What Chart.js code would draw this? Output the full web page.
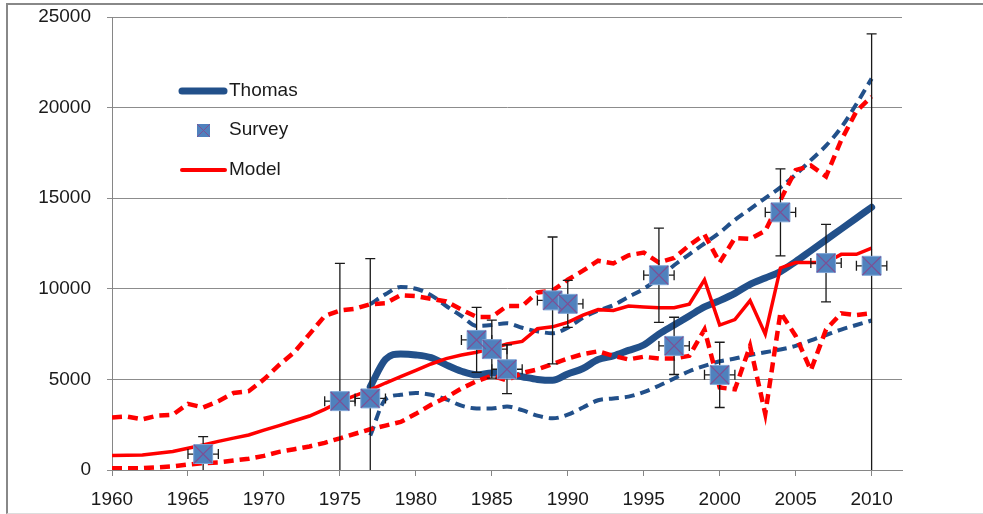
<!DOCTYPE html>
<html>
<head>
<meta charset="utf-8">
<script src="https://cdn.jsdelivr.net/npm/chart.js@4.4.1/dist/chart.umd.min.js"></script>
<style>
    html, body { margin: 0; padding: 0; background: #fff; }
    .frame {
        position: absolute; left: 6px; top: 3px; width: 1000px; height: 508px;
        border-left: 2px solid #888; border-top: 2px solid #888; border-bottom: 1px solid #ddd;
    }
    #chart { position: absolute; left: 0; top: 0; }
</style>
</head>
<body>
<div class="frame"></div>
<canvas id="chart" width="983" height="514"></canvas>
<script>
// model runs every year 1960-2010
const modelYears = [1960, 1961, 1962, 1963, 1964, 1965, 1966, 1967, 1968, 1969,
    1970, 1971, 1972, 1973, 1974, 1975, 1976, 1977, 1978, 1979,
    1980, 1981, 1982, 1983, 1984, 1985, 1986, 1987, 1988, 1989,
    1990, 1991, 1992, 1993, 1994, 1995, 1996, 1997, 1998, 1999,
    2000, 2001, 2002, 2003, 2004, 2005, 2006, 2007, 2008, 2009, 2010];
const modelMid = [800, 820, 830, 920, 1020, 1200, 1380, 1580, 1760, 1930,
    2200, 2450, 2720, 2980, 3350, 3770, 4100, 4420, 4800, 5150,
    5500, 5850, 6150, 6350, 6500, 6700, 6950, 7100, 7800, 7900,
    8150, 8550, 8850, 8800, 9050, 9000, 8950, 8950, 9150, 10500,
    8000, 8300, 9350, 7500, 11150, 11450, 11450, 11450, 11900, 11900, 12250];
const modelHigh = [2900, 2950, 2800, 3000, 3050, 3650, 3450, 3800, 4250, 4350,
    5000, 5800, 6500, 7500, 8500, 8800, 8900, 9150, 9200, 9650,
    9600, 9450, 9300, 8850, 8450, 8450, 9050, 9050, 9800, 9900,
    10500, 11000, 11550, 11400, 11850, 12000, 11450, 11700, 12400, 13000,
    11450, 12800, 12750, 13200, 14900, 16550, 16800, 16200, 18200, 19800, 20600];
const modelLow = [100, 100, 100, 150, 200, 300, 380, 420, 520, 620,
    780, 1000, 1150, 1300, 1500, 1750, 2000, 2250, 2450, 2650,
    3100, 3600, 4000, 4500, 4900, 5200, 4950, 5350, 5550, 5850,
    6150, 6400, 6550, 6300, 6100, 6250, 6150, 6150, 6300, 7750,
    4550, 4450, 6850, 3100, 8700, 7400, 5500, 7750, 8650, 8550, 8650];

// Thomas estimate 1977-2010
const thomasYears = [1977, 1978, 1979, 1980, 1981, 1982, 1983, 1984, 1985, 1986,
    1987, 1988, 1989, 1990, 1991, 1992, 1993, 1994, 1995, 1996,
    1997, 1998, 1999, 2000, 2001, 2002, 2003, 2004, 2005, 2006,
    2007, 2008, 2009, 2010];
const thomasMid = [4600, 6100, 6400, 6350, 6200, 5800, 5450, 5250, 5350, 5300,
    5150, 5000, 4950, 5300, 5600, 6100, 6300, 6600, 6900, 7500,
    8000, 8500, 9000, 9350, 9750, 10250, 10600, 10950, 11500, 12100,
    12700, 13300, 13900, 14500];
const thomasHigh = [9150, 9700, 10100, 10000, 9650, 9050, 8500, 7950, 8000, 8100,
    7850, 7650, 7550, 7850, 8400, 8800, 9100, 9550, 10000, 10600,
    11300, 11900, 12500, 13100, 13800, 14400, 15000, 15600, 16300, 17100,
    17900, 18900, 20200, 21600];
const thomasLow = [1900, 3900, 4150, 4250, 4150, 3900, 3550, 3400, 3400, 3500,
    3300, 3000, 2850, 3050, 3450, 3850, 3950, 4050, 4300, 4650,
    5050, 5450, 5750, 6000, 6150, 6350, 6500, 6650, 6850, 7150,
    7450, 7750, 8000, 8250];

// survey points with +/- errors
const surveyYears = [1966, 1975, 1977, 1984, 1985, 1986, 1989, 1990, 1996, 1997, 2000, 2004, 2007, 2010];
const surveyValues = [880, 3800, 3950, 7180, 6670, 5560, 9360, 9170, 10750, 6850, 5250, 14220, 11420, 11270];
const surveyErrY = [960, 7600, 7720, 1790, 1600, 1350, 3500, 1300, 2600, 1580, 1800, 2400, 2140, 12800];
const surveyErrX = [1, 1, 1, 1, 1, 1, 1, 1, 1, 1, 1, 1, 1, 1];

const yTicks = [0, 5000, 10000, 15000, 20000, 25000];

const BLUE = '#22508a';
const RED = '#ff0000';
const SQ_FILL = '#4f81bd';
const SQ_CROSS = '#7e4f94';
const FONT = "'Liberation Sans', Arial, sans-serif";

const toXY = (xs, ys) => xs.map((x, i) => ({ x: x, y: ys[i] }));

const errorBars = {
    id: 'errorBars',
    beforeDatasetDraw(chart, args) {
        if (args.index !== 6) return;
        const { ctx, chartArea, scales } = chart;
        const xs = scales.x, ys = scales.y;
        ctx.save();
        ctx.beginPath();
        ctx.rect(chartArea.left, chartArea.top, chartArea.right - chartArea.left, chartArea.bottom - chartArea.top);
        ctx.clip();
        ctx.strokeStyle = '#1a1a1a';
        ctx.lineWidth = 1.3;
        surveyYears.forEach((yr, i) => {
            const cx = xs.getPixelForValue(yr);
            const cy = ys.getPixelForValue(surveyValues[i]);
            const top = ys.getPixelForValue(surveyValues[i] + surveyErrY[i]);
            const bot = ys.getPixelForValue(surveyValues[i] - surveyErrY[i]);
            const l = xs.getPixelForValue(yr - surveyErrX[i]);
            const r = xs.getPixelForValue(yr + surveyErrX[i]);
            ctx.beginPath();
            ctx.moveTo(cx, top); ctx.lineTo(cx, bot);
            ctx.moveTo(cx - 5, top); ctx.lineTo(cx + 5, top);
            ctx.moveTo(cx - 5, bot); ctx.lineTo(cx + 5, bot);
            ctx.moveTo(l, cy); ctx.lineTo(r, cy);
            ctx.moveTo(l, cy - 5); ctx.lineTo(l, cy + 5);
            ctx.moveTo(r, cy - 5); ctx.lineTo(r, cy + 5);
            ctx.stroke();
        });
        ctx.restore();
    }
};

const insideLegend = {
    id: 'insideLegend',
    afterDraw(chart) {
        const ctx = chart.ctx;
        ctx.save();
        ctx.lineCap = 'round';
        ctx.strokeStyle = BLUE;
        ctx.lineWidth = 7;
        ctx.beginPath(); ctx.moveTo(182, 91); ctx.lineTo(224, 91); ctx.stroke();
        ctx.strokeStyle = RED;
        ctx.lineWidth = 4;
        ctx.beginPath(); ctx.moveTo(182, 170); ctx.lineTo(225, 170); ctx.stroke();
        ctx.fillStyle = SQ_FILL;
        ctx.fillRect(197, 124, 13, 13);
        ctx.strokeStyle = SQ_CROSS;
        ctx.lineWidth = 1;
        ctx.lineCap = 'butt';
        ctx.beginPath();
        ctx.moveTo(197, 124); ctx.lineTo(210, 137);
        ctx.moveTo(210, 124); ctx.lineTo(197, 137);
        ctx.stroke();
        ctx.fillStyle = '#1a1a1a';
        ctx.font = '19px ' + FONT;
        ctx.textBaseline = 'middle';
        ctx.fillText('Thomas', 229, 91);
        ctx.fillText('Survey', 229, 130);
        ctx.fillText('Model', 229, 170);
        ctx.restore();
    }
};

const dashed = [10, 6];

new Chart(document.getElementById('chart'), {
    type: 'line',
    data: {
        datasets: [
            { label: 'Thomas', data: toXY(thomasYears, thomasMid), borderColor: BLUE, borderWidth: 7,
              cubicInterpolationMode: 'monotone', borderCapStyle: 'round', order: 6 },
            { label: 'Thomas high', data: toXY(thomasYears, thomasHigh), borderColor: BLUE, borderWidth: 4,
              borderDash: dashed, cubicInterpolationMode: 'monotone', order: 5 },
            { label: 'Thomas low', data: toXY(thomasYears, thomasLow), borderColor: BLUE, borderWidth: 4,
              borderDash: dashed, cubicInterpolationMode: 'monotone', order: 5 },
            { label: 'Model', data: toXY(modelYears, modelMid), borderColor: RED, borderWidth: 3.5, order: 3 },
            { label: 'Model high', data: toXY(modelYears, modelHigh), borderColor: RED, borderWidth: 4.5,
              borderDash: dashed, order: 4 },
            { label: 'Model low', data: toXY(modelYears, modelLow), borderColor: RED, borderWidth: 4.5,
              borderDash: dashed, order: 4 },
            { label: 'Survey', data: toXY(surveyYears, surveyValues), showLine: false,
              pointStyle: 'rect', pointRadius: 13.4, pointBackgroundColor: SQ_FILL,
              pointBorderColor: '#7fa6d6', pointBorderWidth: 1, order: 1 },
            { label: 'Survey cross', data: toXY(surveyYears, surveyValues), showLine: false,
              pointStyle: 'crossRot', pointRadius: 13, pointBorderColor: SQ_CROSS,
              pointBorderWidth: 1.2, order: 0 }
        ]
    },
    options: {
        responsive: false,
        animation: false,
        devicePixelRatio: 1,
        layout: { padding: { top: 17, right: 81, bottom: 0, left: 0 } },
        elements: { point: { radius: 0, hoverRadius: 0 }, line: { tension: 0 } },
        plugins: { legend: { display: false }, tooltip: { enabled: false } },
        scales: {
            x: {
                type: 'linear',
                min: 1960, max: 2012,
                ticks: {
                    stepSize: 5, includeBounds: false, padding: 12,
                    color: '#1a1a1a', font: { size: 19, family: FONT },
                    callback: v => String(v)
                },
                grid: { drawOnChartArea: false, tickLength: 6, color: '#868686' },
                border: { color: '#868686' },
                afterFit: s => { s.height = 44; s.paddingLeft = 0; s.paddingRight = 0; }
            },
            y: {
                min: 0, max: 25000,
                afterBuildTicks: s => { s.ticks = yTicks.map(v => ({ value: v })); },
                ticks: {
                    padding: 16, color: '#1a1a1a', font: { size: 19, family: FONT },
                    callback: v => String(v)
                },
                grid: { color: '#8c8c8c', tickLength: 5 },
                border: { color: '#868686' },
                afterFit: s => { s.width = 112; s.paddingTop = 0; s.paddingBottom = 0; }
            }
        }
    },
    plugins: [errorBars, insideLegend]
});
</script>
</body>
</html>
